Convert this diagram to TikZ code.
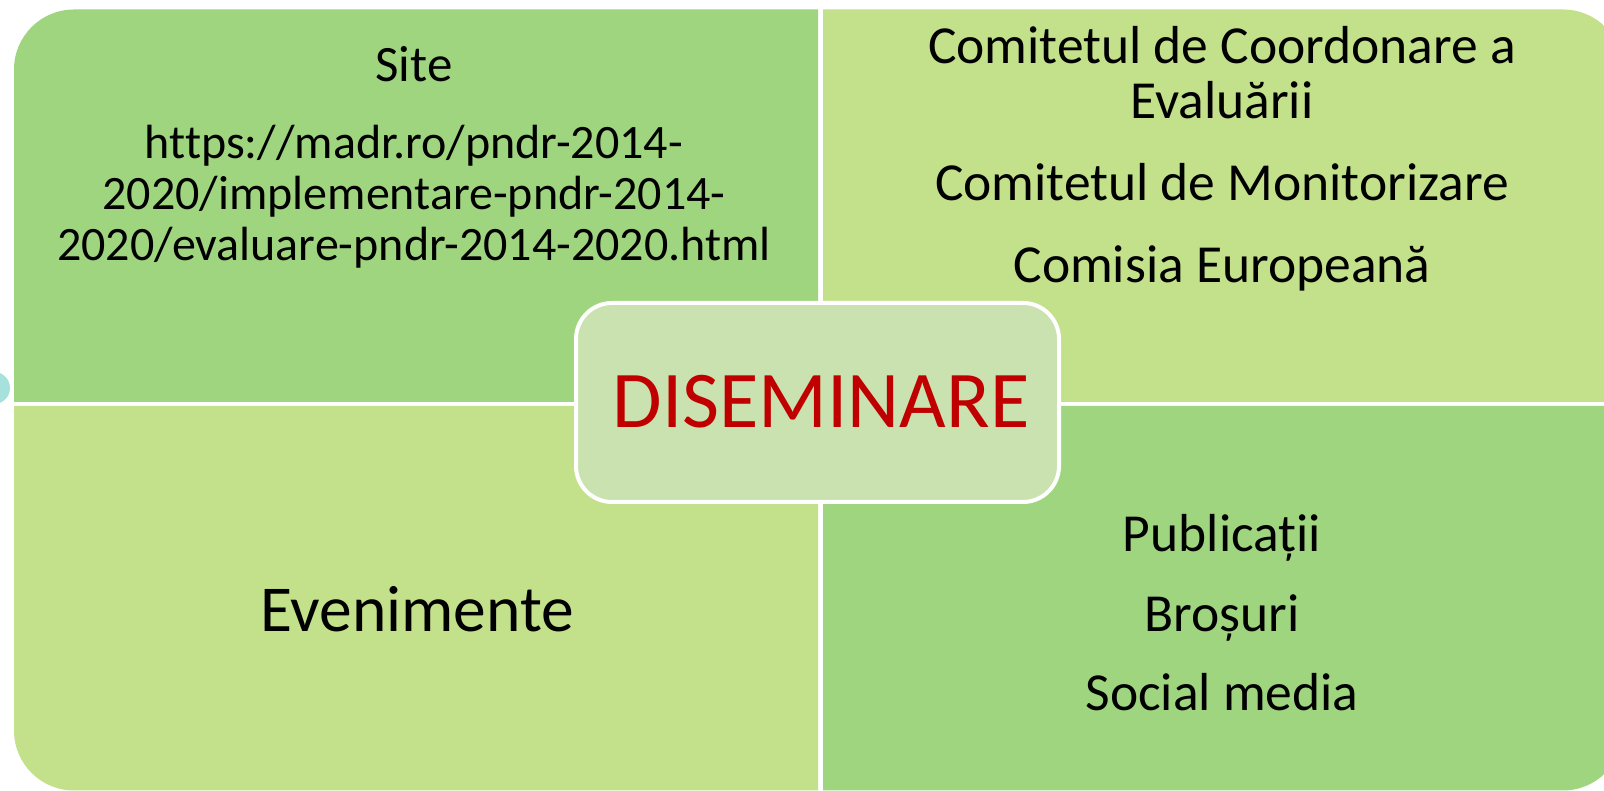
\documentclass[tikz,border=0pt]{standalone}
\usepackage{fontspec}
\setmainfont{Carlito}[Ligatures=NoCommon]
\usepackage{xcolor}
\definecolor{darkleaf}{RGB}{160,213,127}
\definecolor{lightleaf}{RGB}{195,224,138}
\definecolor{centerfill}{RGB}{201,226,176}
\definecolor{dotteal}{RGB}{166,225,220}
\definecolor{titlered}{RGB}{192,0,0}
\tikzset{
  line/.style={anchor=base, inner sep=0pt, font=\fontsize{48}{52}\selectfont},
  wideline/.style={anchor=base, inner sep=0pt, font=\fontsize{53.5}{58}\selectfont},
  bigline/.style={anchor=base, inner sep=0pt, font=\fontsize{65.5}{70}\selectfont},
  centerbox/.style={draw=white, line width=4pt, fill=centerfill, rounded corners=36pt,
    minimum width=483pt, minimum height=199pt, inner sep=0pt}
}
\begin{document}
\begin{tikzpicture}[x=1pt, y=1pt]
  \useasboundingbox (0,0) rectangle (1604,791);
  \fill[white] (0,0) rectangle (1604,791);

  % Quadrants
  \fill[darkleaf] (818,389) -- (818,781.5) -- (74,781.5) arc (90:180:60) -- (14,389) -- cycle;
  \fill[lightleaf] (823,389) -- (823,781.5) -- (1563,781.5) arc (90:0:60) -- (1623,389) -- cycle;
  \fill[lightleaf] (818,385) -- (818,0.5) -- (74,0.5) arc (270:180:60) -- (14,385) -- cycle;
  \fill[darkleaf] (823,385) -- (823,0.5) -- (1563,0.5) arc (270:360:60) -- (1623,385) -- cycle;

  % Small dot on the left edge
  \fill[dotteal] (-6,403) circle (16);

  % Top left
  \node[line, font=\fontsize{51}{54}\selectfont] (site) at (414,709) {Site};
  \node[line] (url1) at (414,632) {https://madr.ro/pndr-2014-};
  \node[line] (url2) at (414,581) {2020/implementare-pndr-2014-};
  \node[line] (url3) at (414,530) {2020/evaluare-pndr-2014-2020.html};

  % Top right
  \node[wideline] (cce1) at (1222,727) {Comitetul de Coordonare a};
  \node[wideline] (cce2) at (1222,672) {Evaluării};
  \node[wideline] (cm) at (1222,590) {Comitetul de Monitorizare};
  \node[wideline] (ce) at (1222,508) {Comisia Europeană};

  % Bottom left
  \node[bigline] (even) at (417,159) {Evenimente};

  % Bottom right
  \node[wideline] (publ) at (1222,239) {Publicații};
  \node[wideline] (bros) at (1222,159) {Broșuri};
  \node[wideline] (social) at (1222,80) {Social media};

  % Centre
  \node[centerbox] (disem) at (817.5,388.5) {};
  \node[anchor=base, inner sep=0pt, font=\fontsize{80.5}{86}\selectfont, text=titlered] (title) at (821,363) {DISEMINARE};
\end{tikzpicture}
\end{document}
